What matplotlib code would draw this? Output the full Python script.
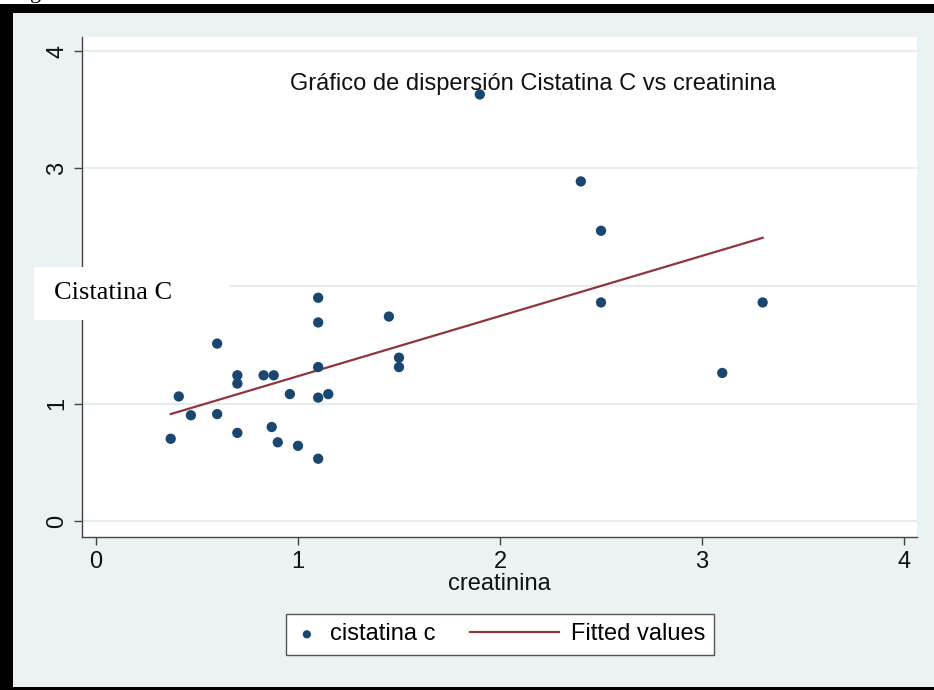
import numpy as np
import matplotlib
matplotlib.use("Agg")
import matplotlib.pyplot as plt
from matplotlib.patches import Rectangle
from matplotlib.legend_handler import HandlerLine2D

# ---------------- data ----------------
creatinina = [0.37, 0.41, 0.47, 0.60, 0.60, 0.70, 0.70, 0.70, 0.83, 0.88,
              0.87, 0.90, 0.96, 1.00, 1.10, 1.10, 1.10, 1.10, 1.10, 1.15,
              1.45, 1.50, 1.50, 1.90, 2.40, 2.50, 2.50, 3.10, 3.30]
cistatina = [0.70, 1.06, 0.90, 1.51, 0.91, 1.24, 1.17, 0.75, 1.24, 1.24,
             0.80, 0.67, 1.08, 0.64, 1.90, 1.69, 1.31, 1.05, 0.53, 1.08,
             1.74, 1.39, 1.31, 3.63, 2.89, 2.47, 1.86, 1.26, 1.86]
fit_x = [0.37, 3.30]
fit_y = [0.91, 2.41]
x_ticks = [0, 1, 2, 3, 4]
y_ticks = [0, 1, 2, 3, 4]
title_text = "Gráfico de dispersión Cistatina C vs creatinina"
x_label = "creatinina"
y_label_box = "Cistatina C"
legend_labels = ["cistatina c", "Fitted values"]

# ---------------- style ----------------
W, H = 934, 690
DPI = 100
NAVY = "#1a476f"
MAROON = "#90353b"
BG = "#eaf2f3"
GRID = "#e6ecee"
FONT = "Liberation Sans"
FS = 17

plt.rcParams["font.family"] = [FONT, "DejaVu Sans"]

fig = plt.figure(figsize=(W / DPI, H / DPI), dpi=DPI)
fig.patch.set_facecolor("white")

def px(x0, y0, x1, y1):
    """pixel box (top-left origin) -> figure fraction rect"""
    return (x0 / W, 1 - y1 / H, (x1 - x0) / W, (y1 - y0) / H)

# black frame and light Stata background
l, b, w, h = px(0, 4, W, H)
fig.add_artist(Rectangle((l, b), w, h, transform=fig.transFigure,
                         facecolor="black", edgecolor="none", zorder=-20))
l, b, w, h = px(13, 13, W, 687)
fig.add_artist(Rectangle((l, b), w, h, transform=fig.transFigure,
                         facecolor=BG, edgecolor="none", zorder=-19))

# cut-off caption letter at very top (only its descender shows)
fig.text(30 / W, 1 + 1.5 / H, "g", family="Liberation Serif", fontsize=16,
         va="baseline", ha="left", color="black", zorder=-30)

# ---------------- axes ----------------
ax = fig.add_axes(px(82, 37, 917, 537))
ax.set_facecolor("white")

ax.scatter(creatinina, cistatina, s=55, color=NAVY, zorder=3,
           edgecolors="none", label=legend_labels[0])
ax.plot(fit_x, fit_y, color=MAROON, lw=1.6, zorder=2, label=legend_labels[1])

ax.set_xlim(-0.069, 4.064)
ax.set_ylim(-0.136, 4.119)
ax.set_xticks(x_ticks)
ax.set_yticks(y_ticks)
ax.grid(axis="y", color=GRID, lw=1.5, zorder=0)
ax.set_axisbelow(True)

for s in ["top", "right"]:
    ax.spines[s].set_visible(False)
for s in ["left", "bottom"]:
    ax.spines[s].set_color("#444444")
    ax.spines[s].set_linewidth(1.0)

ax.tick_params(axis="both", direction="out", length=6, width=1.0,
               color="#444444", labelsize=FS, labelcolor="#111111")
ax.tick_params(axis="x", pad=4)
ax.tick_params(axis="y", pad=4, labelrotation=90)
fig.canvas.draw()
for t, v in zip(ax.get_yticklabels(), y_ticks):
    t.set_va("center")
    if v == 2:
        t.set_visible(False)   # hidden under the white text box in the reference

ax.set_xlabel(x_label, fontsize=FS, labelpad=0, color="#111111")

ax.text(0.540, 0.906, title_text, transform=ax.transAxes, fontsize=FS,
        ha="center", va="center", color="#111111")

# ---------------- legend ----------------
class LongLineHandler(HandlerLine2D):
    def __init__(self, extra_px, **kw):
        super().__init__(**kw)
        self.extra_px = extra_px

    def get_xdata(self, legend, xdescent, ydescent, width, height, fontsize):
        xd = np.array([-xdescent - self.extra_px * 72 / DPI, -xdescent + width])
        return xd, np.array([-xdescent + width / 2])

handles, labels = ax.get_legend_handles_labels()
leg = fig.legend(handles, labels, loc="center",
                 bbox_to_anchor=(500 / W, 1 - 634.5 / H), ncol=2,
                 fontsize=FS, frameon=True, fancybox=False, framealpha=1,
                 edgecolor="#555555", facecolor="white",
                 handlelength=1.0, handletextpad=0.5, columnspacing=4.2,
                 borderpad=0.4, markerscale=0.8,
                 handler_map={handles[1]: LongLineHandler(65)})
leg.get_frame().set_linewidth(1.0)

# white text box overlay on the left
l, b, w, h = px(34, 267, 230, 320)
fig.add_artist(Rectangle((l, b), w, h, transform=fig.transFigure,
                         facecolor="white", edgecolor="none", zorder=10))
fig.text(54 / W, 1 - 293 / H, y_label_box, family="Liberation Serif",
         fontsize=19, ha="left", va="center", color="black", zorder=11)

fig.savefig("out.png", dpi=DPI)
